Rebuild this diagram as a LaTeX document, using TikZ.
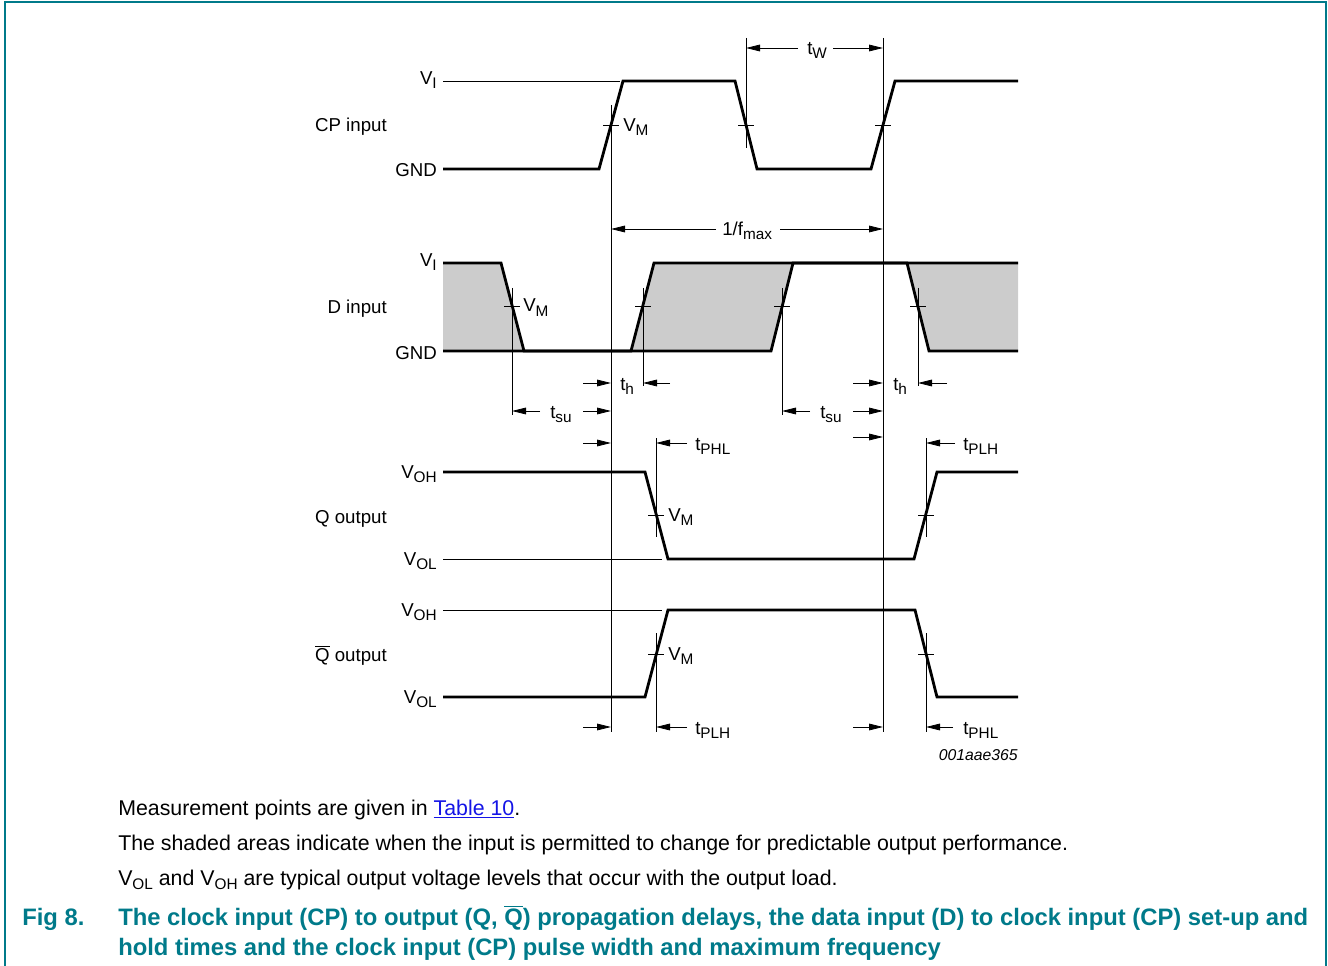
\documentclass[tikz,border=0pt]{standalone}
\usepackage{fontspec}
\setmainfont{Liberation Sans}
\usetikzlibrary{arrows.meta}
\usetikzlibrary{positioning}
\definecolor{nxpteal}{RGB}{0,122,138}
\definecolor{linkblue}{RGB}{20,20,230}
\definecolor{shadegray}{RGB}{204,204,204}
\newcommand{\lo}[1]{\raisebox{-3pt}{\fontsize{11.5}{12}\selectfont #1}}
\newcommand{\qbar}{$\overline{\mbox{Q}}$}
\tikzset{wave/.style = {line width=2.1pt, line join=miter}}
\tikzset{refline/.style = {line width=0.6pt}}
\tikzset{dim/.style = {line width=0.6pt, -{Triangle[length=10.5pt, width=5pt]}}}
\tikzset{lbl/.style = {inner sep=0, font=\fontsize{14}{16}\selectfont}}
\tikzset{body/.style = {inner sep=0, anchor=base west, font=\fontsize{16}{18}\selectfont}}
\tikzset{capt/.style = {inner sep=0, anchor=base west, text=nxpteal,
                        font=\fontsize{17.85}{20}\selectfont\bfseries}}

\begin{document}
\begin{tikzpicture}[x=0.75pt, y=-0.75pt]
      \useasboundingbox (0,0) rectangle (1328,966);
      \draw [nxpteal, line width=1.6pt] (5,966) -- (5,2) -- (1326,2) -- (1326,966);

      % CP input
      \draw [refline] (443,81) -- (620,81);
      \draw [wave] (443,169) -- (599,169) -- (623,81) -- (735,81) -- (757,169)
                   -- (871,169) -- (895,81) -- (1018,81);

      % D input
      \fill [shadegray] (443,263) -- (501,263) -- (524,351) -- (443,351) -- cycle;
      \fill [shadegray] (631,351) -- (654,263) -- (793,263) -- (771,351) -- cycle;
      \fill [shadegray] (907,263) -- (1018,263) -- (1018,351) -- (929,351) -- cycle;
      \draw [wave] (443,263) -- (501,263) -- (524,351) -- (771,351) -- (793,263) -- (1018,263);
      \draw [wave] (443,351) -- (631,351) -- (654,263) -- (907,263) -- (929,351) -- (1018,351);

      % Q output
      \draw [refline] (443,559) -- (662,559);
      \draw [wave] (443,472) -- (645,472) -- (668,559) -- (914,559) -- (937,472) -- (1018,472);

      % Q bar output
      \draw [refline] (443,610) -- (662,610);
      \draw [wave] (443,697) -- (645,697) -- (668,610) -- (915,610) -- (937,697) -- (1018,697);

      % V_M crossings and reference verticals
      \foreach \x/\y/\a/\b in {611/125/105/732, 746/125/38/148, 883/125/38/732,
                               512/306/288/415, 643/306/288/386, 782/306/288/415, 918/306/288/386,
                               656/515/438/537, 926/515/438/537, 656/654/633/732, 926/654/633/732} {
        \draw [refline] (\x-8,\y) -- (\x+8,\y);
        \draw [refline] (\x,\a) -- (\x,\b);
      }

      % timing arrows
      \foreach \a/\b/\y in {798/746/48, 833/883/48, 716/611/229, 780/883/229,
                            583/611/383, 670/643/383, 853/883/383, 947/918/383,
                            540/512/411, 583/611/411, 810/782/411, 853/883/411,
                            583/611/443, 687/656/443, 853/883/437, 955/926/443,
                            583/611/727, 687/656/727, 853/883/727, 953/926/727} {
        \draw [dim] (\a,\y) -- (\b,\y);
      }

      % timing labels
      \node (tw) [lbl, anchor=base west] at (807,55) {t\lo{W}};
      \node (fmax) [lbl, anchor=base west] at (722,236) {1/f\lo{max}};
      \foreach \x/\y/\s [count=\i] in {620/390/h, 893/390/h, 550/418/su, 820/418/su,
                                       695/450/PHL, 963/450/PLH, 695/734/PLH, 963/734/PHL} {
        \node (t\i) [lbl, anchor=base west] at (\x,\y) {t\lo{\s}};
      }
      \foreach \x/\y [count=\i] in {623/132, 523/312, 668/521, 668/660} {
        \node (vm\i) [lbl, anchor=base west] at (\x,\y) {V\lo{M}};
      }

      % level labels
      \foreach \y/\t [count=\i] in {85/V\lo{I}, 177/GND, 267/V\lo{I}, 359/GND,
                                    478/V\lo{OH}, 565/V\lo{OL}, 616/V\lo{OH}, 703/V\lo{OL}} {
        \node (lev\i) [lbl, anchor=base east] at (437,\y) {\t};
      }
      \node (cp) [lbl, anchor=base east] at (387,132) {CP input};
      \node (d) [lbl, anchor=base east] at (387,314) {D input};
      \node (q) [lbl, anchor=base east] at (387,523) {Q output};
      \node (qn) [lbl, anchor=base east] at (387,661) {\qbar{} output};
      \node (code) [inner sep=0, anchor=base east, font=\fontsize{11.8}{14}\selectfont\itshape]
            at (1018,760) {001aae365};

      % notes and caption
      \node (n1) [body] at (118,815) {Measurement points are given in \textcolor{linkblue}{\underline{Table 10}}.};
      \node (n2) [body] at (118,850) {The shaded areas indicate when the input is permitted to change for predictable output performance.};
      \node (n3) [body] at (118,885) {V\lo{OL} and V\lo{OH} are typical output voltage levels that occur with the output load.};
      \node (fig) [capt] at (22,925) {Fig 8.};
      \node (c1) [capt] at (118,925) {The clock input (CP) to output (Q, \qbar) propagation delays, the data input (D) to clock input (CP) set-up and};
      \node (c2) [capt] at (118,955) {hold times and the clock input (CP) pulse width and maximum frequency};
\end{tikzpicture}
\end{document}
